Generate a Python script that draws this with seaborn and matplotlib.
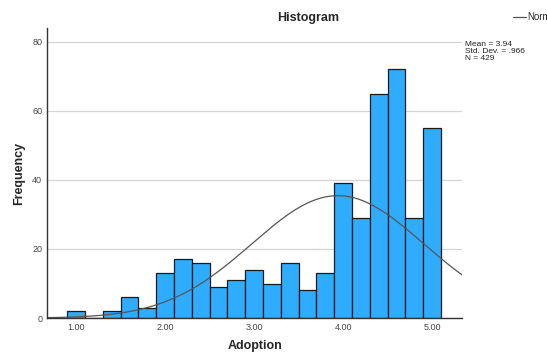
import numpy as np
import pandas as pd
import matplotlib
matplotlib.use("Agg")
import matplotlib.pyplot as plt
import seaborn as sns

# bin centres (Adoption) and frequencies
bin_centers = [1.0, 1.2, 1.4, 1.6, 1.8, 2.0, 2.2, 2.4, 2.6, 2.8, 3.0,
               3.2, 3.4, 3.6, 3.8, 4.0, 4.2, 4.4, 4.6, 4.8, 5.0]
counts = [2, 0, 2, 6, 3, 13, 17, 16, 9, 11, 14,
          10, 16, 8, 13, 39, 29, 65, 72, 29, 55]
bin_width = 0.2
mean_val = 3.94
std_val = 0.966
n_val = 429

df = pd.DataFrame({"Adoption": bin_centers, "Frequency": counts})

sns.set_style("white")
plt.rcParams["font.family"] = ["Liberation Sans", "DejaVu Sans"]

fig = plt.figure(figsize=(5.47, 3.53), dpi=100)
ax = fig.add_axes([0.086, 0.099, 0.759, 0.822])

ax.yaxis.grid(True, color="#d4d4d4", linewidth=0.9)
ax.set_axisbelow(True)

sns.histplot(data=df, x="Adoption", weights="Frequency",
             binwidth=bin_width, binrange=(0.9, 5.1),
             color="#30acff", edgecolor="#1a1a1a", linewidth=0.9,
             alpha=1, ax=ax)

# fitted normal curve
xs = np.linspace(0.674, 5.337, 300)
ys = n_val * bin_width * np.exp(-0.5 * ((xs - mean_val) / std_val) ** 2) / (std_val * np.sqrt(2 * np.pi))
line, = ax.plot(xs, ys, color="#555555", linewidth=0.9, label="Normal")

ax.set_xlim(0.674, 5.337)
ax.set_ylim(0, 84)
ax.set_xticks([1, 2, 3, 4, 5])
ax.set_xticklabels(["1.00", "2.00", "3.00", "4.00", "5.00"])
ax.set_yticks([0, 20, 40, 60, 80])
ax.tick_params(axis="both", labelsize=6.5, colors="#444444", length=0, pad=3.5)

for s in ["top", "right"]:
    ax.spines[s].set_visible(False)
for s in ["left", "bottom"]:
    ax.spines[s].set_color("#333333")
    ax.spines[s].set_linewidth(1.0)

ax.set_xlabel("Adoption", fontsize=9, fontweight="bold", labelpad=6)
ax.set_ylabel("Frequency", fontsize=9, fontweight="bold", labelpad=5)
fig.text(308 / 547, 1 - 18 / 353, "Histogram", fontsize=9, fontweight="bold",
         ha="center", va="center")

fig.text(465 / 547, 1 - 41 / 353,
         f"Mean = {mean_val:.2f}\nStd. Dev. = .966\nN = {n_val}",
         fontsize=6, va="top", ha="left", color="#222222", linespacing=1.0)

fig.legend(handles=[line], loc="center left", bbox_to_anchor=(513 / 547, 1 - 17 / 353),
           frameon=False, fontsize=7, handlelength=1.35, handletextpad=0.15,
           borderaxespad=0, borderpad=0)

fig.savefig("out.png", dpi=100)
